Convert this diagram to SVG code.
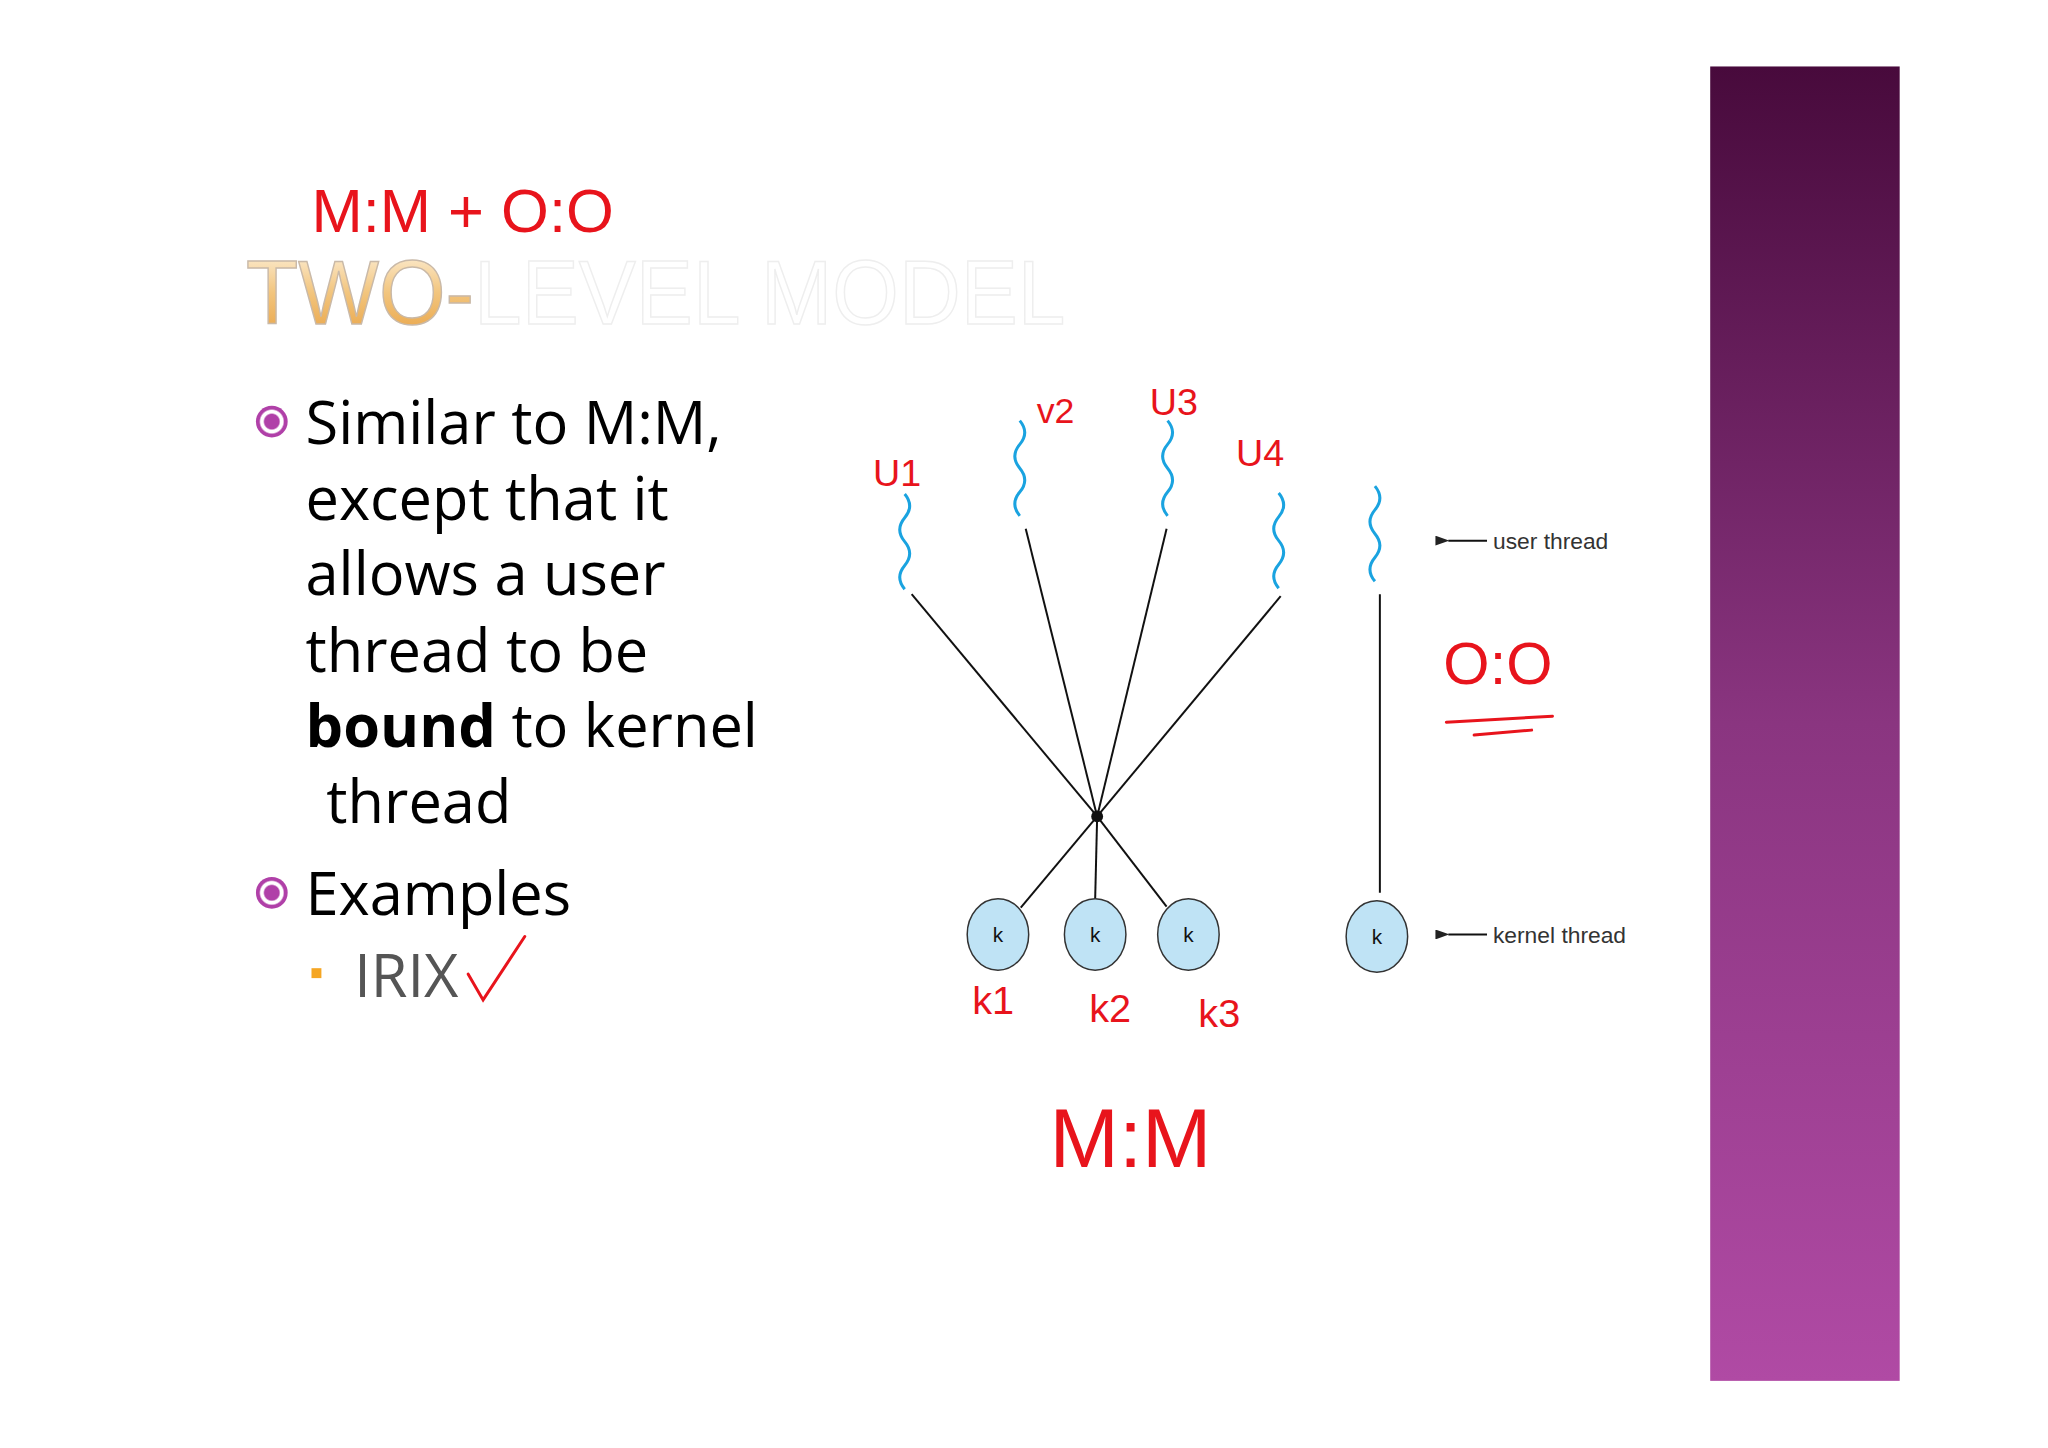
<svg xmlns="http://www.w3.org/2000/svg" width="2048" height="1448" viewBox="0 0 2048 1448">
<defs>
<linearGradient id="bar" x1="0" y1="0" x2="0" y2="1"><stop offset="0" stop-color="#480a3c"/><stop offset="0.5" stop-color="#8a3580"/><stop offset="1" stop-color="#b04aa4"/></linearGradient>
<linearGradient id="gold" x1="0" y1="0" x2="0" y2="1"><stop offset="0" stop-color="#fff6e6"/><stop offset="0.5" stop-color="#f2c57e"/><stop offset="1" stop-color="#e8a040"/></linearGradient>
<radialGradient id="bul"><stop offset="0.45" stop-color="#b040a8"/><stop offset="0.55" stop-color="#fff"/><stop offset="0.7" stop-color="#fff"/><stop offset="0.8" stop-color="#b040a8"/></radialGradient>
<marker id="ah" markerWidth="14" markerHeight="10" refX="1" refY="5" orient="auto" markerUnits="userSpaceOnUse"><path d="M14,0 L0,5 L14,10 z" fill="#222"/></marker>
</defs>
<style>
.body{font-family:"Open Sans","Liberation Sans",sans-serif;font-size:60px;fill:#000}
.lbl{font-family:"Liberation Sans",Arial,sans-serif;font-size:23px;fill:#333}
.k{font-family:"Liberation Sans",Arial,sans-serif;font-size:21px;fill:#111;text-anchor:middle}
.wave{fill:none;stroke:#1aa3e0;stroke-width:3}
.ln{stroke:#111;stroke-width:2;fill:none}
.node{fill:#bfe3f5;stroke:#333;stroke-width:1.5}
.red{font-family:"Liberation Sans",Arial,sans-serif;fill:#e8141c;font-weight:300}
.redl{stroke:#e8141c;stroke-width:3;fill:none;stroke-linecap:round}
</style>
<rect width="2048" height="1448" fill="#fff"/>
<g transform="scale(0.992)">
<rect x="1724" y="67" width="191" height="1325" fill="url(#bar)"/>
<g id="title">
<text x="248" y="327" font-family="Liberation Sans,Arial,sans-serif" font-size="92" textLength="826" lengthAdjust="spacingAndGlyphs"><tspan fill="url(#gold)" stroke="#c9b9a8" stroke-width="1.5">TWO-</tspan><tspan fill="#fff" stroke="#eeeeee" stroke-width="1.5">LEVEL MODEL</tspan></text>
</g>
<g id="bullets">
<circle cx="274" cy="425" r="16" fill="url(#bul)"/>
<text class="body" x="308" y="448">Similar to M:M,</text>
<text class="body" x="308" y="524">except that it</text>
<text class="body" x="308" y="600">allows a user</text>
<text class="body" x="308" y="677">thread to be</text>
<text class="body" x="308" y="753"><tspan font-weight="bold">bound</tspan> to kernel</text>
<text class="body" x="329" y="830">thread</text>
<circle cx="274" cy="900" r="16" fill="url(#bul)"/>
<text class="body" x="308" y="922">Examples</text>
<rect x="314" y="976" width="10" height="10" fill="#f5a623"/>
<text class="body" x="357" y="1005" font-size="52" style="fill:#555">IRIX</text>
</g>
<g id="connectors">
<line class="ln" x1="919" y1="599" x2="1106" y2="823"/>
<line class="ln" x1="1034" y1="533" x2="1106" y2="823"/>
<line class="ln" x1="1176" y1="533" x2="1106" y2="823"/>
<line class="ln" x1="1291" y1="601" x2="1106" y2="823"/>
<line class="ln" x1="1106" y1="823" x2="1029" y2="915"/>
<line class="ln" x1="1106" y1="823" x2="1104" y2="906"/>
<line class="ln" x1="1106" y1="823" x2="1176" y2="914"/>
<line class="ln" x1="1391" y1="599" x2="1391" y2="900"/>
<line class="ln" x1="1499" y1="545" x2="1460" y2="545" marker-end="url(#ah)"/>
<line class="ln" x1="1499" y1="942" x2="1460" y2="942" marker-end="url(#ah)"/>
<circle cx="1106" cy="823" r="6" fill="#111"/>
</g>
<g id="user-threads">
<path class="wave" d="M912,498 q10,12 0,24 q-10,12 0,24 q10,12 0,24 q-10,12 0,24"/>
<path class="wave" d="M1028,424 q10,12 0,24 q-10,12 0,24 q10,12 0,24 q-10,12 0,24"/>
<path class="wave" d="M1177,424 q10,12 0,24 q-10,12 0,24 q10,12 0,24 q-10,12 0,24"/>
<path class="wave" d="M1289,497 q10,12 0,24 q-10,12 0,24 q10,12 0,24 q-10,12 0,24"/>
<path class="wave" d="M1386,490 q10,12 0,24 q-10,12 0,24 q10,12 0,24 q-10,12 0,24"/>
<text class="lbl" x="1505" y="553">user thread</text>
</g>
<g id="k1"><ellipse class="node" cx="1006" cy="942" rx="31" ry="36"/><text class="k" x="1006" y="950">k</text></g>
<g id="k2"><ellipse class="node" cx="1104" cy="942" rx="31" ry="36"/><text class="k" x="1104" y="950">k</text></g>
<g id="k3"><ellipse class="node" cx="1198" cy="942" rx="31" ry="36"/><text class="k" x="1198" y="950">k</text></g>
<g id="k4"><ellipse class="node" cx="1388" cy="944" rx="31" ry="36"/><text class="k" x="1388" y="952">k</text>
<text class="lbl" x="1505" y="951">kernel thread</text></g>
<g id="annotations">
<text class="red" x="314" y="234" font-size="62">M:M  + O:O</text>
<text class="red" x="880" y="490" font-size="38">U1</text>
<text class="red" x="1045" y="426" font-size="36">v2</text>
<text class="red" x="1159" y="418" font-size="38">U3</text>
<text class="red" x="1246" y="470" font-size="38">U4</text>
<text class="red" x="1455" y="690" font-size="60">O:O</text>
<path class="redl" d="M1458,728 L1565,722 M1486,741 L1544,736"/>
<text class="red" x="980" y="1022" font-size="40">k1</text>
<text class="red" x="1098" y="1030" font-size="40">k2</text>
<text class="red" x="1208" y="1035" font-size="40">k3</text>
<text class="red" x="1058" y="1176" font-size="84">M:M</text>
<path class="redl" d="M472,982 L487,1008 L529,944"/>
</g>
</g>
</svg>
